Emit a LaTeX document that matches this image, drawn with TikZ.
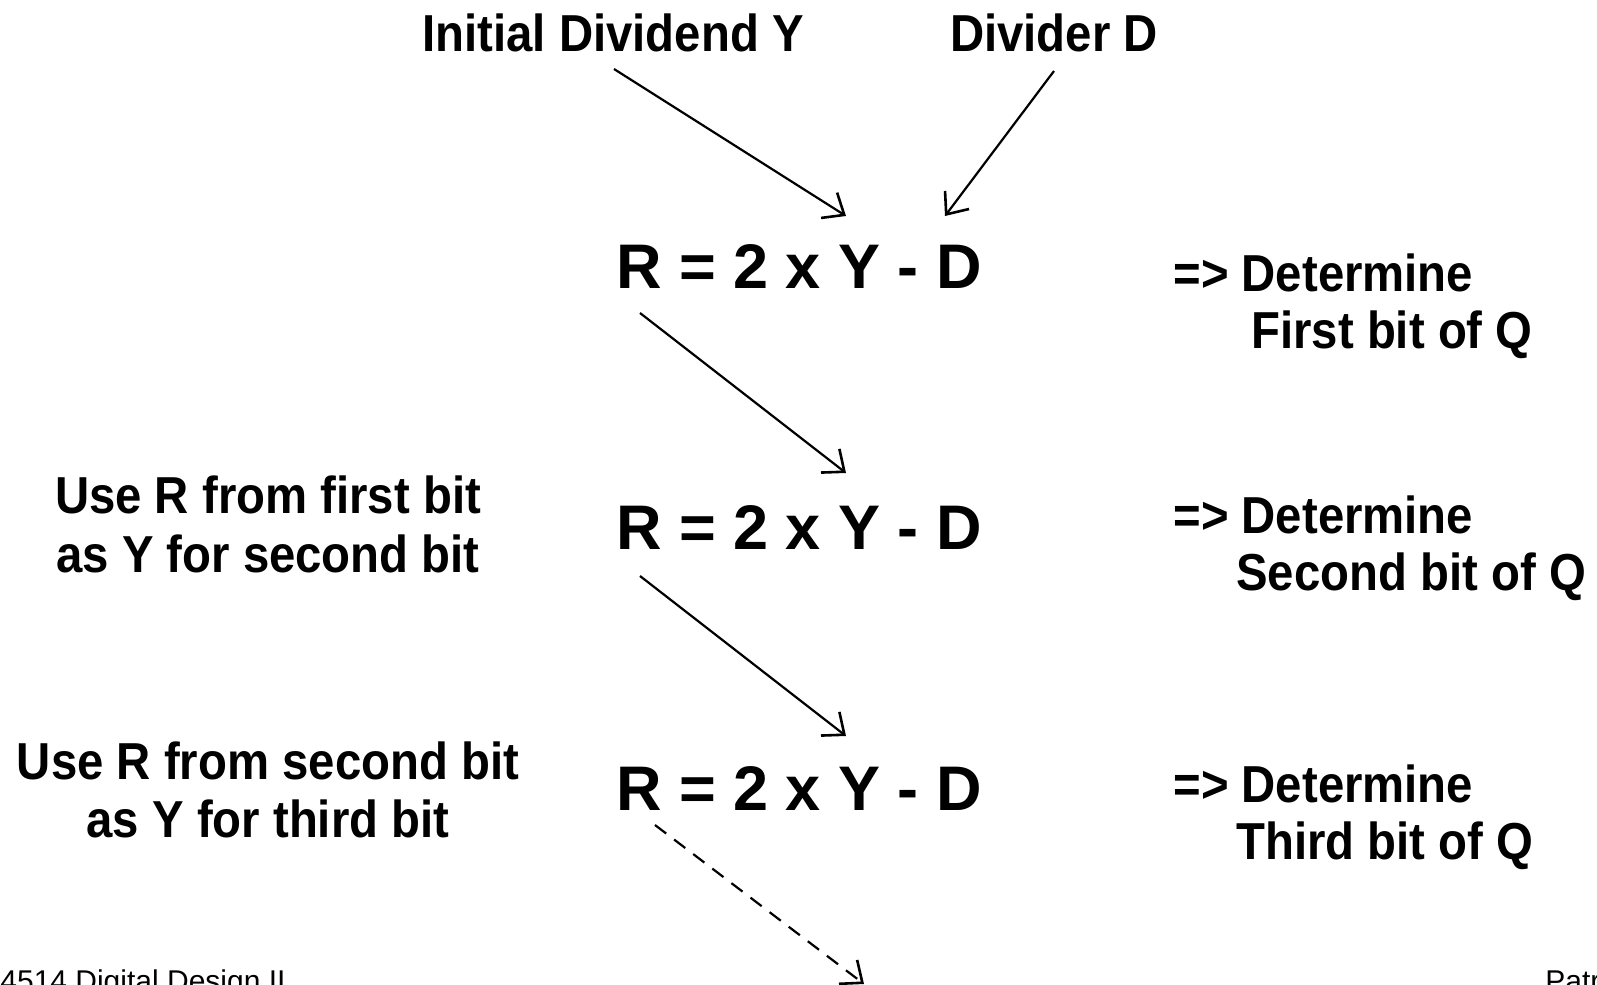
\documentclass[tikz,border=0pt]{standalone}
\usepackage{fontspec}
\setmainfont{Liberation Sans}
\usetikzlibrary{arrows.meta}
\newcommand{\narrow}[1]{\scalebox{0.91}[1]{#1}}
\tikzset{
  lbl/.style={inner sep=0pt, anchor=base, font=\fontsize{26}{30}\selectfont\bfseries},
  lblw/.style={lbl, anchor=base west},
  eqn/.style={inner sep=0pt, anchor=base, font=\fontsize{31.5}{36}\selectfont\bfseries},
  foot/.style={inner sep=0pt, anchor=base west, font=\fontsize{15}{18}\selectfont},
  flow/.style={line width=1.1pt, -{Straight Barb[length=9pt,width=15pt,line width=1.3pt]}},
  guess/.style={flow, dash pattern=on 7pt off 5pt}
}
\begin{document}
\begin{tikzpicture}[x=0.5pt, y=-0.5pt]
  \clip (0,0) rectangle (1597,985);
  \fill[white] (0,0) rectangle (1597,985);

  % inputs
  \node[lbl] (dividend) at (613,51) {\narrow{Initial Dividend Y}};
  \node[lbl] (divider)  at (1054,51) {\narrow{Divider D}};

  % the three steps
  \node[eqn] (eq1) at (799,288) {R = 2 x Y - D};
  \node[eqn] (eq2) at (799,549) {R = 2 x Y - D};
  \node[eqn] (eq3) at (799,810) {R = 2 x Y - D};

  % results
  \node[lblw] (res1a) at (1173,291) {\narrow{=> Determine}};
  \node[lblw] (res1b) at (1251,348) {\narrow{First bit of Q}};
  \node[lblw] (res2a) at (1173,533) {\narrow{=> Determine}};
  \node[lblw] (res2b) at (1236,590) {\narrow{Second bit of Q}};
  \node[lblw] (res3a) at (1173,802) {\narrow{=> Determine}};
  \node[lblw] (res3b) at (1236,859) {\narrow{Third bit of Q}};

  % notes on the left
  \node[lbl] (note1a) at (268,513) {\narrow{Use R from first bit}};
  \node[lbl] (note1b) at (268,572) {\narrow{as Y for second bit}};
  \node[lbl] (note2a) at (268,779) {\narrow{Use R from second bit}};
  \node[lbl] (note2b) at (268,837) {\narrow{as Y for third bit}};

  % footer, running off the lower edge of the page
  \node[foot] (course) at (0,991) {4514 Digital Design II};
  \node[foot] (author) at (1545,991) {Patrick};

  % arrow end points
  \coordinate (a1s) at (614,69);   \coordinate (a1e) at (846,216);
  \coordinate (a2s) at (1054,71);  \coordinate (a2e) at (945,216);
  \coordinate (a3s) at (640,313);  \coordinate (a3e) at (846,473);
  \coordinate (a4s) at (640,576);  \coordinate (a4e) at (846,736);
  \coordinate (a5s) at (655,825);  \coordinate (a5e) at (864,984);

  \draw[flow]  (a1s) -- (a1e);
  \draw[flow]  (a2s) -- (a2e);
  \draw[flow]  (a3s) -- (a3e);
  \draw[flow]  (a4s) -- (a4e);
  \draw[guess] (a5s) -- (a5e);
\end{tikzpicture}
\end{document}
